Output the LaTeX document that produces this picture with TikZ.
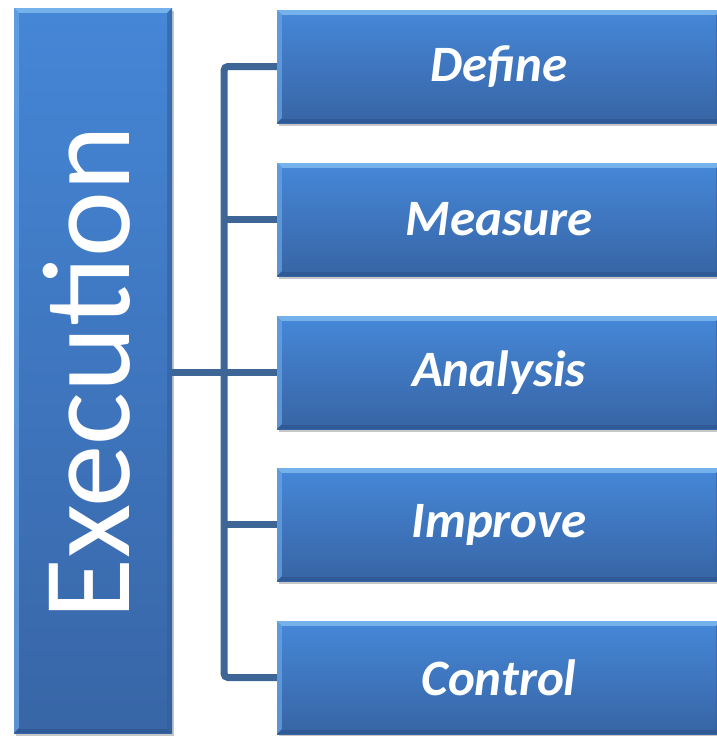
\documentclass[tikz,border=0pt]{standalone}
\usepackage{fontspec}
\setmainfont{Carlito}
\usetikzlibrary{shadows}

\definecolor{boxtop}{HTML}{4586D6}
\definecolor{boxbot}{HTML}{3866A7}
\definecolor{bevlight}{HTML}{86C2F4}
\definecolor{bevleft}{HTML}{6AA6E6}
\definecolor{bevdark}{HTML}{2B5289}
\definecolor{bevright}{HTML}{325E9A}
\definecolor{linkblue}{HTML}{3D6595}

\tikzset{
  bevelbox/.style={
    rectangle, inner sep=0pt, draw=none,
    top color=boxtop, bottom color=boxbot,
    drop shadow={shadow xshift=2pt, shadow yshift=-3pt, opacity=0.22, fill=black},
    path picture={
      % top bevel
      \fill[bevlight, opacity=0.75]
        (path picture bounding box.north west) -- (path picture bounding box.north east)
        -- ([xshift=-5pt,yshift=-5pt]path picture bounding box.north east)
        -- ([xshift=5pt,yshift=-5pt]path picture bounding box.north west) -- cycle;
      % left bevel
      \fill[bevleft, opacity=0.7]
        (path picture bounding box.north west) -- ([xshift=5pt,yshift=-5pt]path picture bounding box.north west)
        -- ([xshift=5pt,yshift=5pt]path picture bounding box.south west)
        -- (path picture bounding box.south west) -- cycle;
      % bottom bevel
      \fill[bevdark, opacity=0.6]
        (path picture bounding box.south west) -- (path picture bounding box.south east)
        -- ([xshift=-5pt,yshift=5pt]path picture bounding box.south east)
        -- ([xshift=5pt,yshift=5pt]path picture bounding box.south west) -- cycle;
      % right bevel
      \fill[bevright, opacity=0.6]
        (path picture bounding box.north east) -- ([xshift=-5pt,yshift=-5pt]path picture bounding box.north east)
        -- ([xshift=-5pt,yshift=5pt]path picture bounding box.south east)
        -- (path picture bounding box.south east) -- cycle;
      % inner face
      \shade[top color=boxtop, bottom color=boxbot]
        ([xshift=5pt,yshift=-5pt]path picture bounding box.north west)
        rectangle ([xshift=-5pt,yshift=5pt]path picture bounding box.south east);
    }
  },
  stagebox/.style={bevelbox, minimum width=444pt, minimum height=113pt},
  stagelabel/.style={text=white, font=\fontsize{51}{51}\selectfont\bfseries\itshape},
  conn/.style={draw=linkblue, line width=7pt, line cap=butt},
}

\begin{document}
\begin{tikzpicture}[x=1pt, y=-1pt]
  \useasboundingbox (0,0) rectangle (716,736);

  % main column
  \node[bevelbox, minimum width=158pt, minimum height=725pt] (exec) at (93,370.5) {};
  \node[text=white, font=\fontsize{125}{125}\selectfont, rotate=90, anchor=base, inner sep=0pt]
    (exectext) at (129,372.5) {Execution};

  % stages
  \node[stagebox] (define)   at (499,66.5)  {};
  \node[stagebox] (measure)  at (499,219.5) {};
  \node[stagebox] (analysis) at (499,372.5) {};
  \node[stagebox] (improve)  at (499,524.5) {};
  \node[stagebox] (control)  at (499,677.5) {};

  \node[stagelabel] (definetext)   at (define)   {Define};
  \node[stagelabel] (measuretext)  at (measure)  {Measure};
  \node[stagelabel] (analysistext) at (analysis) {Analysis};
  \node[stagelabel] (improvetext)  at (improve)  {Improve};
  \node[stagelabel] (controltext)  at (control)  {Control};

  % bus connectors
  \coordinate (bus) at (224,372.5);
  \draw[conn] (exec.east |- analysis) -- (analysis.west);
  \draw[conn, rounded corners=4pt]
    (define.west) -- (bus |- define) -- (bus |- control) -- (control.west);
  \draw[conn] (bus |- measure) -- (measure.west);
  \draw[conn] (bus |- improve) -- (improve.west);
\end{tikzpicture}
\end{document}
